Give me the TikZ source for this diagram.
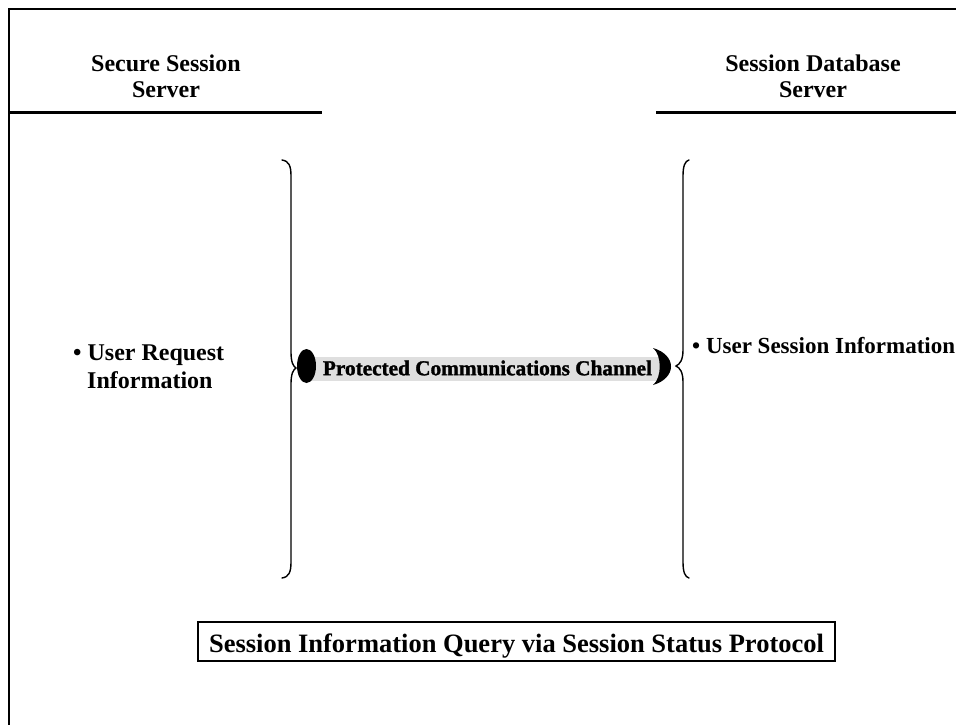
\documentclass[tikz,border=0pt]{standalone}
\usepackage{fontspec}
\setmainfont{Liberation Serif}
\newfontfamily\chanfont{Liberation Serif}[BoldFeatures={FakeBold=1.5}]
\begin{document}
\begin{tikzpicture}[x=1pt,y=-1pt,
  hdr/.style={font=\fontsize{24}{26}\selectfont\bfseries, inner sep=0pt, anchor=base},
  item/.style={font=\fontsize{24}{26}\selectfont\bfseries, inner sep=0pt, anchor=base west},
  bracestroke/.style={line width=1.4pt, line cap=round},
  rulestroke/.style={line width=3pt},
  framestroke/.style={line width=2.2pt}]
\useasboundingbox (0,0) rectangle (956,725);
\fill[white] (0,0) rectangle (956,725);

% frame
\coordinate (ftl) at (9,9);
\coordinate (ftr) at (956,9);
\coordinate (fbl) at (9,725);
\draw[framestroke] (ftr) -- (ftl) -- (fbl);

% headers
\node[hdr] (h1a) at (166,72) {Secure Session};
\node[hdr] (h1b) at (166,98) {Server};
\node[hdr] (h2a) at (813,72) {Session Database};
\node[hdr] (h2b) at (813,98) {Server};
\coordinate (l1s) at (9,112);
\coordinate (l1e) at (322,112);
\coordinate (l2s) at (656,112);
\coordinate (l2e) at (956,112);
\draw[rulestroke] (l1s) -- (l1e);
\draw[rulestroke] (l2s) -- (l2e);

% braces
\draw[bracestroke] (282,160) .. controls (289,161) and (291,166) .. (291,176)
  -- (291,352) .. controls (291,362) and (293,366) .. (296,368)
  .. controls (293,370) and (291,374) .. (291,384)
  -- (291,562) .. controls (291,572) and (289,577) .. (282,578);
\draw[bracestroke] (689,160) .. controls (685,161) and (683,166) .. (683,176)
  -- (683,350) .. controls (683,360) and (680,364) .. (676,366)
  .. controls (680,368) and (683,372) .. (683,382)
  -- (683,562) .. controls (683,572) and (685,577) .. (689,578);

% channel
\fill[gray!25] (310,357) rectangle (662,381);
\node[inner sep=0pt] (chan) at (487.5,368) {\resizebox{329pt}{!}{\chanfont\bfseries Protected Communications Channel}};
\fill[black] (306.5,366) ellipse [x radius=9.5, y radius=17];
\fill[black] (653,348) .. controls (677,355) and (677,378) .. (653,385)
  .. controls (662,378) and (662,355) .. (653,348) -- cycle;

% items
\node[item] (ur1) at (73,360) {\textbullet\ User Request};
\node[item] (ur2) at (87,388) {Information};
\node[item, font=\fontsize{23}{26}\selectfont\bfseries] (us) at (692,353) {\textbullet\ User Session Information};

% bottom box
\node[draw, line width=1.5pt, inner sep=0pt, minimum width=637pt, minimum height=39pt,
  text height=24pt, text depth=3pt, font=\fontsize{26.5}{30}\selectfont\bfseries]
  (proto) at (516.5,641.5) {Session Information Query via Session Status Protocol};
\end{tikzpicture}
\end{document}
